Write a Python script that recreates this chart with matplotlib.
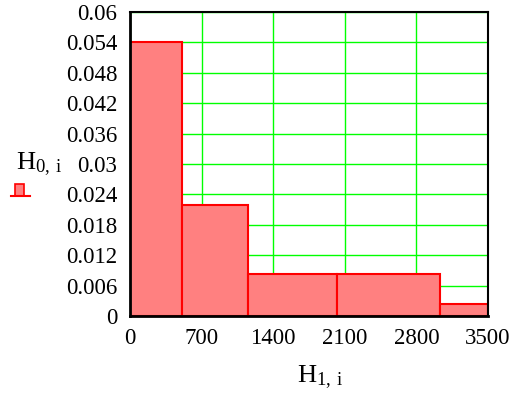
import matplotlib
matplotlib.use("Agg")
import matplotlib.pyplot as plt
from matplotlib.patches import Rectangle
from matplotlib.lines import Line2D

bin_edges = [0, 510, 1150, 2025, 3030, 3500]
bin_heights = [0.054, 0.022, 0.0083, 0.0083, 0.0024]
x_ticks = [0, 700, 1400, 2100, 2800, 3500]
y_ticks = [0, 0.006, 0.012, 0.018, 0.024, 0.03, 0.036, 0.042, 0.048, 0.054, 0.06]
y_tick_labels = ["0", "0.006", "0.012", "0.018", "0.024", "0.03", "0.036",
                 "0.042", "0.048", "0.054", "0.06"]

plt.rcParams['font.family'] = ['Liberation Serif', 'DejaVu Serif']
plt.rcParams['mathtext.fontset'] = 'custom'
plt.rcParams['mathtext.rm'] = 'Liberation Serif'
plt.rcParams['mathtext.it'] = 'Liberation Serif'

fig = plt.figure(figsize=(5.16, 3.97), dpi=100)
ax = fig.add_axes([130/516, 1-316/397, 358/516, 304/397])

lefts = bin_edges[:-1]
widths = [b - a for a, b in zip(bin_edges[:-1], bin_edges[1:])]
ax.bar(lefts, bin_heights, width=widths, align='edge', color='#ff8080',
       edgecolor='#ff0000', linewidth=1.5, zorder=3)

ax.set_xlim(0, 3500)
ax.set_ylim(0, 0.06)
ax.set_xticks(x_ticks)
ax.set_xticklabels([str(v) for v in x_ticks])
ax.set_yticks(y_ticks)
ax.set_yticklabels(y_tick_labels)
ax.tick_params(axis='both', length=0, labelsize=16.5)
ax.tick_params(axis='y', pad=9)
ax.tick_params(axis='x', pad=9)
ax.grid(True, color='#00ff00', linewidth=1.0, zorder=1)
ax.set_axisbelow(True)
for s in ['left', 'bottom']:
    ax.spines[s].set_linewidth(2.0)
for s in ['top', 'right']:
    ax.spines[s].set_linewidth(1.5)
for s in ax.spines.values():
    s.set_color('black')
    s.set_zorder(5)

fig.text(39/516, 1-164/397, r'$\mathrm{H}_{0,\;\mathrm{i}}$', fontsize=19,
         ha='center', va='center')
fig.text(320/516, 1-377/397, r'$\mathrm{H}_{1,\;\mathrm{i}}$', fontsize=19,
         ha='center', va='center')

# legend-like symbol under y label
fig.patches.append(Rectangle((15/516, 1-196/397), 9/516, 12/397,
                             transform=fig.transFigure, facecolor='#ff8080',
                             edgecolor='#ff0000', linewidth=1.2))
fig.lines.append(Line2D([11/516, 30/516], [1-196/397, 1-196/397],
                        transform=fig.transFigure, color='#ff0000', linewidth=1.5))

fig.savefig('out.png', dpi=100)
